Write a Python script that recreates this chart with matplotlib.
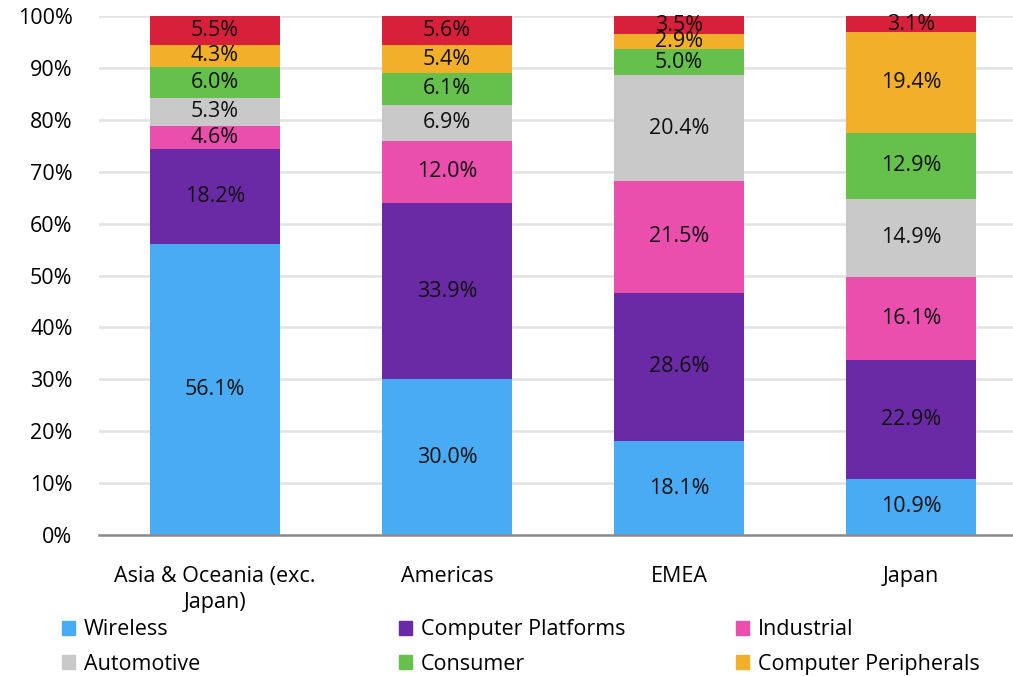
import matplotlib
matplotlib.use("Agg")
import matplotlib.pyplot as plt
from matplotlib.patches import Patch
import numpy as np

plt.rcParams['font.family'] = ['Open Sans', 'DejaVu Sans']

categories = ["Asia & Oceania (exc.\nJapan)", "Americas", "EMEA", "Japan"]
series_names = ["Wireless", "Computer Platforms", "Industrial", "Automotive",
                "Consumer", "Computer Peripherals", "Other"]
wireless = [56.1, 30.0, 18.1, 10.9]
computer_platforms = [18.2, 33.9, 28.6, 22.9]
industrial = [4.6, 12.0, 21.5, 16.1]
automotive = [5.3, 6.9, 20.4, 14.9]
consumer = [6.0, 6.1, 5.0, 12.9]
computer_peripherals = [4.3, 5.4, 2.9, 19.4]
other = [5.5, 5.6, 3.5, 3.1]
colors = ["#4aabf5", "#6a2aa6", "#ea4fae", "#c9c9c9", "#66c04c", "#f2b02a", "#d8203a"]
yticks = [0, 10, 20, 30, 40, 50, 60, 70, 80, 90, 100]

data = np.array([wireless, computer_platforms, industrial, automotive,
                 consumer, computer_peripherals, other], dtype=float)
totals = data.sum(axis=0)
frac = data / totals * 100

FS = 15.5
W, H = 1013, 676
fig = plt.figure(figsize=(W / 100, H / 100), dpi=100)
ax = fig.add_axes([99 / W, (H - 535) / H, (1027 - 99) / W, (535 - 16) / H])
x = np.arange(len(categories))
bottom = np.zeros(len(categories))
for i in range(len(series_names)):
    ax.bar(x, frac[i], bottom=bottom, width=0.56, color=colors[i], zorder=2)
    for j in range(len(categories)):
        ax.text(x[j], bottom[j] + frac[i][j] / 2, f"{data[i][j]:.1f}%",
                ha="center", va="center", fontsize=FS, color="#111111", zorder=3)
    bottom += frac[i]

ax.set_xlim(-0.5, 3.5)
ax.set_ylim(0, 100)
ax.set_yticks(yticks)
ax.set_yticklabels([f"{v}%" for v in yticks], fontsize=FS)
ax.set_xticks(x)
ax.set_xticklabels(categories, fontsize=FS, linespacing=1.32)
ax.tick_params(axis='y', length=0, pad=19)
ax.tick_params(axis='x', length=0, pad=22)
ax.grid(axis='y', color="#e3e3e3", linewidth=1.8, zorder=0)
for s in ["top", "right", "left"]:
    ax.spines[s].set_visible(False)
ax.spines["bottom"].set_color("#8c8c8c")
ax.spines["bottom"].set_linewidth(1.8)
ax.spines["bottom"].set_zorder(4)

cols = [[0, 3], [1, 4], [2, 5]]
xpos = [62, 399, 736]
for cx, idxs in zip(xpos, cols):
    handles = [Patch(color=colors[k], label=series_names[k]) for k in idxs]
    fig.legend(handles=handles, ncol=1, loc="center left",
               bbox_to_anchor=(cx / W, 1 - 647 / H),
               frameon=False, fontsize=FS, handlelength=0.6, handleheight=0.6,
               handletextpad=0.4, labelspacing=0.62, borderpad=0, borderaxespad=0)

fig.savefig("out.png", dpi=100)
